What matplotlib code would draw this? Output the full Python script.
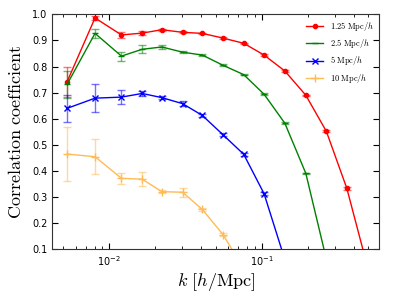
import matplotlib
matplotlib.use("Agg")
import matplotlib.pyplot as plt
import numpy as np

plt.rcParams['mathtext.fontset'] = 'cm'

k = [0.00528, 0.00805, 0.0120, 0.0164, 0.0221, 0.0302, 0.0407, 0.0556,
     0.0761, 0.1035, 0.1416, 0.1944, 0.265, 0.361, 0.49]

r_125 = [0.742, 0.986, 0.921, 0.928, 0.941, 0.931, 0.927, 0.909, 0.889,
         0.844, 0.783, 0.690, 0.552, 0.334, 0.04]
e_125 = [0.058, 0.006, 0.010, 0.007, 0.004, 0.004, 0.003, 0.003, 0.003,
         0.003, 0.003, 0.003, 0.004, 0.005, 0.006]

r_25 = [0.732, 0.927, 0.840, 0.866, 0.875, 0.855, 0.844, 0.805, 0.769,
        0.694, 0.583, 0.391, 0.063, -0.1, -0.2]
e_25 = [0.052, 0.017, 0.017, 0.016, 0.006, 0.004, 0.004, 0.003, 0.003,
        0.003, 0.003, 0.003, 0.003, 0.003, 0.003]

r_5 = [0.640, 0.679, 0.683, 0.697, 0.681, 0.658, 0.613, 0.539, 0.464,
       0.313, 0.061, -0.1, -0.2, -0.3, -0.4]
e_5 = [0.053, 0.053, 0.026, 0.008, 0.006, 0.010, 0.005, 0.005, 0.005,
       0.005, 0.005, 0.005, 0.005, 0.005, 0.005]

r_10 = [0.465, 0.455, 0.372, 0.369, 0.321, 0.319, 0.253, 0.157, 0.025,
        -0.1, -0.2, -0.3, -0.4, -0.5, -0.6]
e_10 = [0.103, 0.067, 0.020, 0.028, 0.006, 0.018, 0.006, 0.006, 0.006,
        0.006, 0.006, 0.006, 0.006, 0.006, 0.006]

labels = [r'$\mathrm{1.25\ Mpc}/h$', r'$\mathrm{2.5\ Mpc}/h$',
          r'$\mathrm{5\ Mpc}/h$', r'$\mathrm{10\ Mpc}/h$']

fig = plt.figure(figsize=(3.99, 2.98), dpi=100)
ax = fig.add_axes([0.131, 0.163, 0.82, 0.789])

series = [
    (r_125, e_125, 'r', '.', 6),
    (r_25, e_25, 'g', '_', 5),
    (r_5, e_5, 'b', 'x', 5),
    (r_10, e_10, '#ffbb55', '+', 6),
]
for (r, e, c, m, ms), lab in zip(series, labels):
    ax.plot(k, r, color=c, marker=m, ms=ms, mew=1, lw=1, label=lab)
    ax.errorbar(k, r, yerr=e, fmt='none', ecolor=c, alpha=0.55,
                elinewidth=1, capsize=3, capthick=1)

ax.set_xscale('log')
ax.set_xlim(0.00422, 0.591)
ax.set_ylim(0.1, 1.0)
ax.set_yticks(np.arange(0.1, 1.01, 0.1))
ax.yaxis.set_major_formatter(plt.FormatStrFormatter('%.1f'))
ax.tick_params(which='both', direction='in', top=True, right=True, labelsize=7)
ax.tick_params(which='major', length=4)
ax.tick_params(which='minor', length=2)
for s in ax.spines.values():
    s.set_color('#333333')

ax.set_ylabel(r'$\mathrm{Correlation\ coefficient}$', fontsize=13, labelpad=5)
ax.set_xlabel(r'$k\ [h/\mathrm{Mpc}]$', fontsize=13, labelpad=2)
ax.legend(loc='upper right', fontsize=6, frameon=False, borderaxespad=0.3)

fig.savefig('out.png', dpi=100)
